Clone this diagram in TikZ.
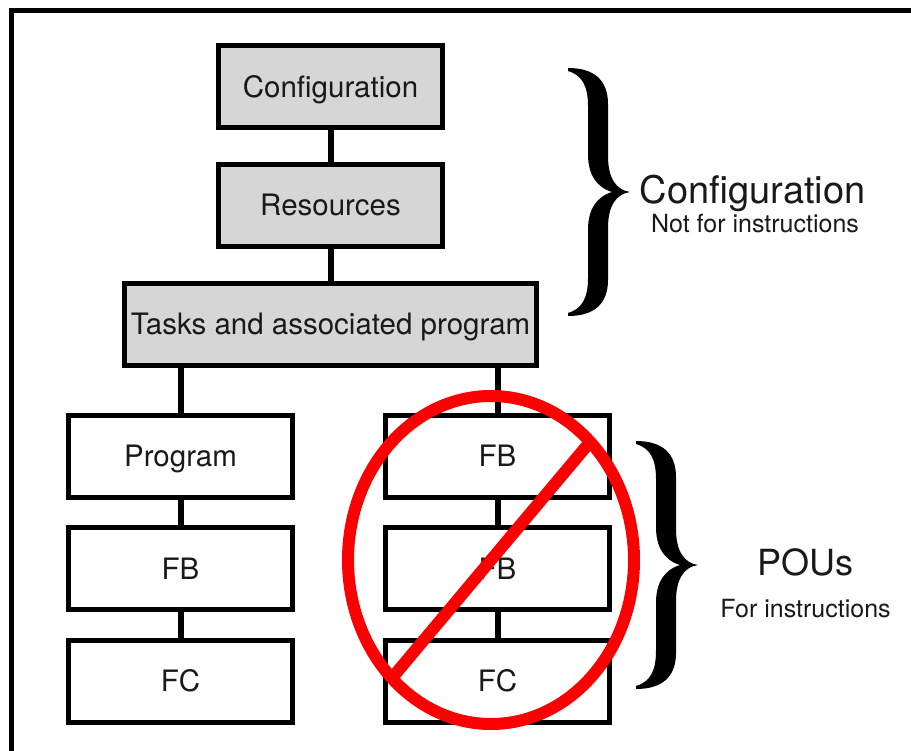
\documentclass[tikz,border=0pt]{standalone}
\usepackage{fontspec}
\setmainfont{TeX Gyre Heros}
\definecolor{boxgray}{RGB}{214,214,214}
\definecolor{inkblack}{RGB}{25,25,25}
\definecolor{stopred}{RGB}{250,0,0}
\tikzset{
  unitbox/.style={draw=black, line width=5pt, minimum width=224pt, minimum height=82pt,
    inner sep=0pt, text height=21pt, text depth=0pt,
    font=\fontsize{29.5}{34}\selectfont, text=inkblack},
  greybox/.style={unitbox, fill=boxgray},
  whitebox/.style={unitbox, fill=white},
  link/.style={draw=black, line width=6pt},
  sidetitle/.style={anchor=base, inner sep=0pt, text=inkblack},
  stopmark/.style={draw=stopred, line width=12pt},
  % curly brace drawn as a filled outline; origin is the middle point
  bracefill/.pic={
    \fill[black]
      (-62,-124) .. controls (-36,-124) and (-22,-112) .. (-22,-88)
      -- (-22,-36)
      .. controls (-22,-14) and (-14,-2) .. (0,0)
      .. controls (-14,2) and (-22,14) .. (-22,36)
      -- (-22,88)
      .. controls (-22,112) and (-36,124) .. (-62,124)
      -- (-62,121)
      .. controls (-48,117) and (-42,106) .. (-42,86)
      -- (-42,38)
      .. controls (-42,18) and (-34,5) .. (-18,0)
      .. controls (-34,-5) and (-42,-18) .. (-42,-38)
      -- (-42,-86)
      .. controls (-42,-106) and (-48,-117) .. (-62,-121)
      -- cycle;
  }
}
\begin{document}
\begin{tikzpicture}[x=1pt, y=-1pt]
  \useasboundingbox (0,0) rectangle (911,751);
  \fill[white] (0,0) rectangle (911,751);

  % outer frame, running off the page at right and bottom
  \begin{scope}
    \clip (0,0) rectangle (911,751);
    \draw[black, line width=4.5pt] (11.5,10.5) rectangle (940,780);
  \end{scope}

  % configuration levels
  \node[greybox] (cfg) at (330.5,87) {Configuration};
  \node[greybox] (res) at (330.5,205.5) {Resources};
  \node[greybox, minimum width=412pt] (tasks) at (330.5,324.5) {Tasks and associated program};

  % program organisation units
  \node[whitebox] (prog) at (180.5,456.5) {Program};
  \node[whitebox] (fbl)  at (180.5,568.5) {FB};
  \node[whitebox] (fcl)  at (180.5,681) {FC};
  \node[whitebox] (fbr1) at (497.5,456.5) {FB};
  \node[whitebox] (fbr2) at (497.5,568.5) {FB};
  \node[whitebox] (fcr)  at (497.5,681) {FC};

  % connectors
  \draw[link] (cfg.south) -- (res.north);
  \draw[link] (res.south) -- (tasks.north);
  \draw[link] (tasks.south -| prog.north) -- (prog.north);
  \draw[link] (tasks.south -| fbr1.north) -- (fbr1.north);
  \draw[link] (prog.south) -- (fbl.north);
  \draw[link] (fbl.south) -- (fcl.north);
  \draw[link] (fbr1.south) -- (fbr2.north);
  \draw[link] (fbr2.south) -- (fcr.north);

  % braces and their captions
  \pic at (630,192) {bracefill};
  \pic at (698,565) {bracefill};
  \node[sidetitle, font=\fontsize{38}{44}\selectfont] (capcfg) at (752.5,204) {Configuration};
  \node[sidetitle, font=\fontsize{25}{30}\selectfont] (capcfgsub) at (755,233) {Not for instructions};
  \node[sidetitle, font=\fontsize{36}{42}\selectfont] (cappou) at (805.5,575) {POUs};
  \node[sidetitle, font=\fontsize{25}{30}\selectfont] (cappousub) at (805.5,617) {For instructions};

  % prohibition sign over the right column
  \draw[stopmark] (491,560) ellipse [x radius=143, y radius=164];
  \coordinate (slashtop) at (590,442);
  \coordinate (slashbot) at (392,678);
  \draw[stopmark] (slashbot) -- (slashtop);
\end{tikzpicture}
\end{document}
